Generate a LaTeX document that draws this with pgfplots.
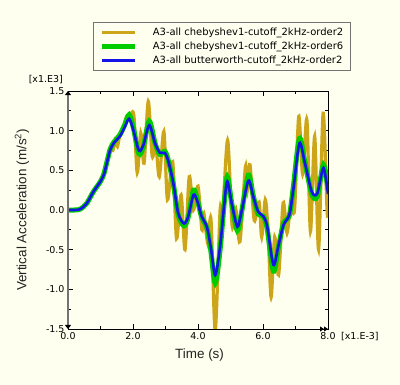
\documentclass[border=0pt]{standalone}
\usepackage{fontspec}
\setmainfont{DejaVu Sans}
\newfontfamily\arialfont{Liberation Sans}
\usepackage{pgfplots}
\usepackage{pgfplotstable}
\pgfplotsset{compat=1.18}
\usetikzlibrary{arrows.meta,backgrounds}
\definecolor{bg}{RGB}{255,255,240}
\definecolor{gold}{RGB}{204,165,25}
\definecolor{grn}{RGB}{0,205,0}
\definecolor{blu}{RGB}{20,20,230}
\definecolor{lblc}{RGB}{34,34,34}

\pgfplotstableread{
t v
0.00 0.00
0.20 0.00
0.37 0.01
0.57 0.08
0.78 0.23
0.90 0.30
0.98 0.34
1.10 0.46
1.20 0.60
1.30 0.78
1.38 0.75
1.45 0.88
1.52 0.80
1.60 0.95
1.70 1.02
1.80 1.18
1.94 1.22
2.03 1.18
2.13 0.47
2.24 0.97
2.34 0.59
2.47 1.37
2.59 0.68
2.70 0.82
2.81 0.42
2.95 0.99
3.06 0.13
3.22 0.61
3.34 -0.36
3.48 0.19
3.60 -0.50
3.73 0.42
3.86 0.00
4.00 0.30
4.12 -0.25
4.18 -0.04
4.30 -0.42
4.40 -0.12
4.53 -1.52
4.68 0.00
4.74 -0.20
4.91 0.88
5.05 -0.20
5.16 0.02
5.29 -0.40
5.46 0.55
5.52 0.25
5.60 0.57
5.73 -0.13
5.88 0.10
5.96 -0.34
6.07 0.13
6.16 -0.30
6.25 -1.10
6.36 -0.34
6.48 -0.82
6.62 0.09
6.74 -0.29
6.86 0.10
6.97 0.00
7.10 1.18
7.22 0.45
7.35 1.14
7.46 -0.27
7.59 0.93
7.71 -0.50
7.85 1.22
7.97 0.00
8.00 -0.02
}\goldtab

\pgfplotstableread{
t v
0.00 0.00
0.20 0.00
0.37 0.01
0.57 0.08
0.78 0.23
1.00 0.36
1.10 0.45
1.20 0.61
1.30 0.77
1.42 0.86
1.60 0.95
1.75 1.08
1.88 1.20
2.01 1.04
2.18 0.71
2.32 0.80
2.50 1.12
2.68 0.84
2.83 0.70
2.98 0.74
3.09 0.62
3.24 0.33
3.39 -0.06
3.57 -0.20
3.70 -0.09
3.86 0.25
3.98 0.13
4.11 -0.09
4.27 -0.22
4.39 -0.50
4.53 -0.92
4.68 -0.50
4.80 0.06
4.90 0.42
5.04 0.08
5.21 -0.26
5.34 -0.03
5.55 0.44
5.70 0.18
5.85 -0.05
6.01 -0.08
6.13 -0.24
6.32 -0.77
6.47 -0.48
6.63 -0.17
6.81 -0.07
6.93 0.28
7.12 0.90
7.29 0.60
7.50 0.20
7.67 0.17
7.86 0.57
8.00 0.25
}\greentab

\pgfplotstableread{
t v
0.00 0.00
0.20 0.00
0.37 0.01
0.57 0.08
0.78 0.23
1.00 0.36
1.10 0.44
1.20 0.60
1.30 0.76
1.42 0.85
1.60 0.93
1.75 1.05
1.88 1.15
2.01 1.01
2.18 0.75
2.32 0.82
2.50 1.07
2.68 0.84
2.83 0.72
2.98 0.72
3.09 0.61
3.24 0.34
3.39 -0.04
3.57 -0.17
3.70 -0.08
3.86 0.19
3.98 0.11
4.11 -0.08
4.27 -0.21
4.39 -0.46
4.53 -0.82
4.68 -0.46
4.80 0.04
4.90 0.36
5.04 0.08
5.21 -0.21
5.34 -0.02
5.55 0.37
5.70 0.17
5.85 -0.02
6.01 -0.08
6.13 -0.21
6.32 -0.69
6.47 -0.46
6.63 -0.19
6.81 -0.06
6.93 0.25
7.12 0.84
7.29 0.59
7.50 0.23
7.67 0.21
7.86 0.53
8.00 0.20
}\bluetab

\begin{document}
\begin{tikzpicture}
\begin{axis}[name=ax, scale only axis, width=260bp, height=238bp,
  xmin=0, xmax=8, ymin=-1.5, ymax=1.5,
  axis background/.style={fill=bg},
  axis line style={black, line width=0.8bp},
  xtick={0,2,4,6,8}, xticklabels={0.0,2.0,4.0,6.0,8.0},
  minor xtick={1,3,5,7},
  ytick={-1.5,-1,-0.5,0,0.5,1,1.5},
  yticklabels={-1.5,-1.0,-0.5,0.0,0.5,1.0,1.5},
  minor ytick={-1.25,-0.75,-0.25,0.25,0.75,1.25},
  tick align=inside, major tick length=5bp, minor tick length=3bp,
  tick style={black, line width=0.7bp},
  ticklabel style={font=\fontsize{9.5}{11}\selectfont, text=black},
  xlabel={Time (s)},
  ylabel={Vertical Acceleration (m/s\textsuperscript{2})},
  xlabel style={at={(axis description cs:0.506,-0.109)}, anchor=center,
    font=\arialfont\fontsize{13.5}{15}\selectfont, text=lblc},
  ylabel style={at={(axis description cs:-0.177,0.5)}, anchor=center,
    font=\arialfont\fontsize{13.5}{15}\selectfont, text=lblc},
  legend image code/.code={\draw[#1] (0bp,0bp) -- (33bp,0bp);},
  legend cell align=left,
  legend style={at={(axis description cs:0.096,1.29)}, anchor=north west,
    draw=black!55, fill=bg, line width=0.8bp,
    font=\fontsize{10}{12}\selectfont,
    inner xsep=6bp, inner ysep=4bp, row sep=2bp,
    nodes={inner sep=1.5bp},
    /tikz/every odd column/.append style={column sep=14bp}},
]
\addplot[gold, line width=3.2bp, smooth, tension=0.5] table[x=t,y=v] {\goldtab};
\addlegendentry{A3-all chebyshev1-cutoff\_2kHz-order2}
\addplot[grn, line width=5bp, smooth, tension=0.5] table[x=t,y=v] {\greentab};
\addlegendentry{A3-all chebyshev1-cutoff\_2kHz-order6}
\addplot[blu, line width=2.6bp, smooth, tension=0.5] table[x=t,y=v] {\bluetab};
\addlegendentry{A3-all butterworth-cutoff\_2kHz-order2}
\end{axis}
\begin{axis}[scale only axis, width=260bp, height=238bp,
  xmin=0, xmax=8, ymin=-1.5, ymax=1.5,
  axis x line=bottom, axis y line=left, xtick=\empty, ytick=\empty,
  x axis line style={black, line width=0.8bp, -{Triangle[length=4bp,width=5bp]Triangle[length=4bp,width=5bp]}},
  y axis line style={black!55, line width=1.3bp, {Triangle[black,length=4bp,width=6bp]}-{Triangle[black,length=4bp,width=6bp]}},
]
\end{axis}
\node[anchor=east, inner sep=0pt, font=\fontsize{9.5}{11}\selectfont] at ([shift={(-5bp,11bp)}]ax.north west) {[x1.E3]};
\node[anchor=west, inner sep=0pt, font=\fontsize{9.5}{11}\selectfont] at ([shift={(13bp,-8bp)}]ax.south east) {[x1.E-3]};
\begin{pgfonlayer}{background}
\fill[bg] ([shift={(-68bp,-56bp)}]ax.south west) rectangle ++(400bp,385bp);
\end{pgfonlayer}
\pgfresetboundingbox
\useasboundingbox ([shift={(-68bp,-56bp)}]ax.south west) rectangle ++(400bp,385bp);
\end{tikzpicture}
\end{document}
